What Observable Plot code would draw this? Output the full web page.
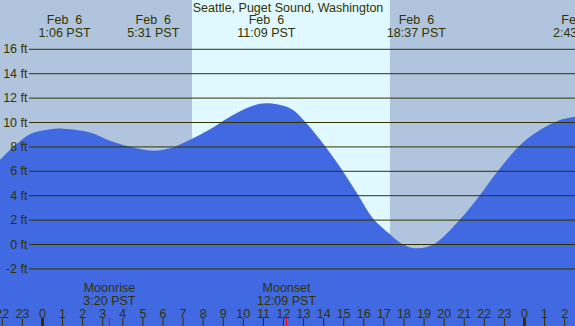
<!DOCTYPE html>
<html>
<head>
<meta charset="utf-8">
<script src="https://cdn.jsdelivr.net/npm/d3@7"></script>
<script src="https://cdn.jsdelivr.net/npm/@observablehq/plot@0.6"></script>
<style>
  html, body { margin: 0; padding: 0; background: #b0c4de; }
  svg text { white-space: pre; }
</style>
</head>
<body>
<div id="chart"></div>
<script>
// ---- data ----
const title = "Seattle, Puget Sound, Washington";
// tide curve samples: hour of Feb 6 (PST) and height in ft
const tideHours = [-2.09, -1.59, -0.6, 0.4, 1.1, 2.39, 3.39, 4.38, 5.52, 6.37, 7.37, 8.37, 9.36, 10.36, 11.15, 12.35, 13.1, 14.09, 14.94, 15.74, 16.48, 17.33, 17.83, 18.62, 19.57, 20.82, 21.81, 22.71, 23.8, 24.8, 25.8, 26.54];
const tideFeet  = [6.89, 7.7, 8.99, 9.4, 9.45, 9.15, 8.47, 7.98, 7.65, 7.84, 8.55, 9.4, 10.43, 11.25, 11.53, 11.12, 10.03, 8.03, 6.07, 4.02, 2.1, 0.8, 0.11, -0.35, 0.05, 2.02, 4.02, 6.0, 8.1, 9.34, 10.16, 10.43];
// high / low tide events
const eventHours = [1.1, 5.517, 11.15, 18.617, 26.717];
const eventDates = ["Feb  6", "Feb  6", "Feb  6", "Feb  6", "Feb  7"];
const eventTimes = ["1:06 PST", "5:31 PST", "11:09 PST", "18:37 PST", "2:43 PST"];
// moon events
const moonHours = [3.333, 12.15];
const moonNames = ["Moonrise", "Moonset"];
const moonTimes = ["3:20 PST", "12:09 PST"];
// daylight
const sunrise = 7.47, sunset = 17.33;
// axes
const gridFt = [-2, 0, 2, 4, 6, 8, 10, 12, 14, 16];
const hourTicks = d3.range(-2, 27);
const xDomain = [-2.09, 26.54];
const yDomain = [-6.72, 20];

// ---- tables ----
const tide = tideHours.map((h, i) => ({h, ft: tideFeet[i]}));
const events = eventHours.map((h, i) => ({h, label: eventDates[i] + "\n" + eventTimes[i]}));
const moon = moonHours.map((h, i) => ({h, label: moonNames[i] + "\n" + moonTimes[i]}));

const ink = "#333300";

const chart = Plot.plot({
  width: 575,
  height: 326,
  margin: 0,
  x: {domain: xDomain, axis: null},
  y: {domain: yDomain, axis: null},
  style: {background: "#b0c4de", fontFamily: "'Liberation Sans', Arial, sans-serif", fontSize: "12.5px", color: ink},
  marks: [
    Plot.rect([{x1: sunrise, x2: sunset}], {x1: "x1", x2: "x2", fill: "#e0f8ff"}),
    Plot.areaY(tide, {x: "h", y1: yDomain[0], y2: "ft", fill: "#4169e1", curve: "catmull-rom"}),
    Plot.ruleY(gridFt, {y: d => d, stroke: ink, strokeWidth: 1, insetLeft: 29}),
    Plot.text(gridFt, {y: d => d, text: d => `${d} ft`, frameAnchor: "left", dx: 27, textAnchor: "end", fill: ink}),
    Plot.text([title], {text: d => d, frameAnchor: "top", lineAnchor: "top", dy: 3, fill: ink}),
    Plot.text(events, {x: "h", text: "label", frameAnchor: "top", lineAnchor: "top", dy: 14.5, lineHeight: 1.02, fill: ink}),
    Plot.text(moon, {x: "h", text: "label", frameAnchor: "bottom", lineAnchor: "bottom", dy: -22, lineHeight: 0.98, fill: ink}),
    Plot.ruleX(hourTicks, {x: d => d, insetTop: 318, stroke: ink, strokeWidth: d => ((d % 24) + 24) % 24 === 0 ? 3 : 1}),
    Plot.ruleX(moonHours, {x: d => d, insetTop: 318, stroke: "red", strokeWidth: 1}),
    Plot.text(hourTicks, {x: d => d, text: d => String(((d % 24) + 24) % 24), frameAnchor: "bottom", lineAnchor: "bottom", dy: -9, fill: ink})
  ]
});
document.getElementById("chart").appendChild(chart);
</script>
</body>
</html>
